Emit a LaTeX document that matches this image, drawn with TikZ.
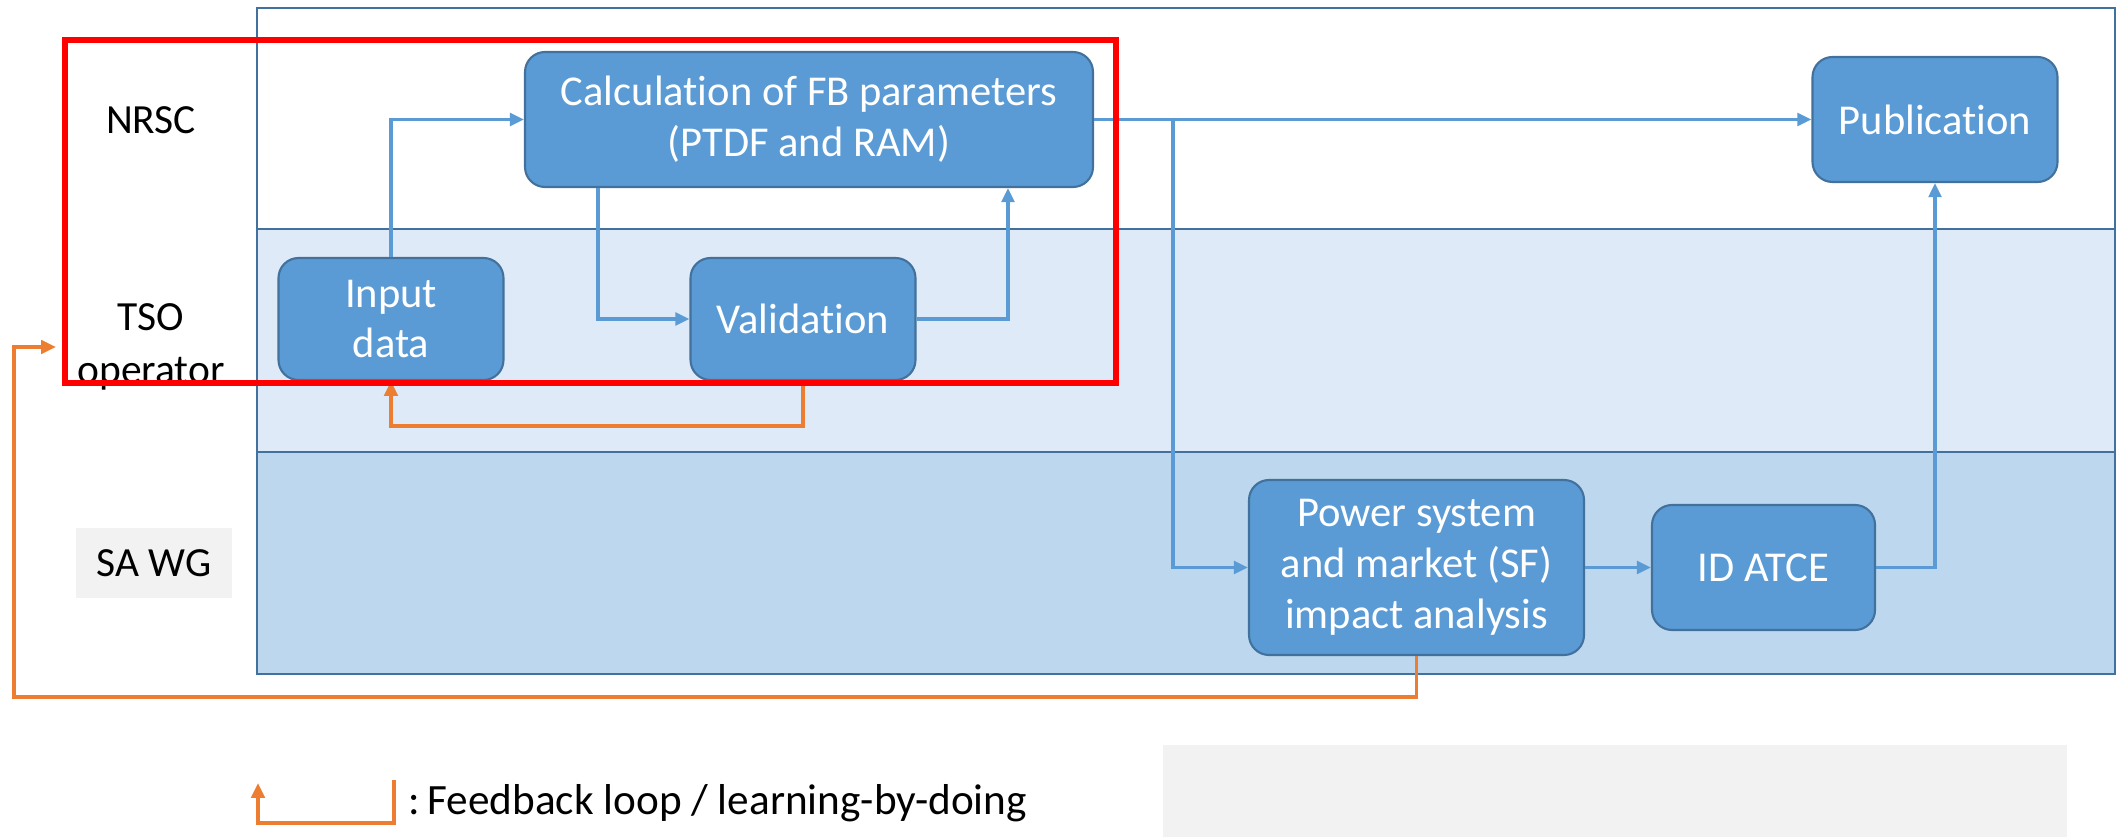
\documentclass[tikz,border=0pt]{standalone}
\usepackage{fontspec}
\setmainfont{Carlito}[Ligatures=NoCommon]
\usetikzlibrary{arrows.meta}
\definecolor{boxblue}{HTML}{5B9BD5}
\definecolor{boxedge}{HTML}{41719C}
\definecolor{lanetso}{HTML}{DEEAF7}
\definecolor{lanesa}{HTML}{BDD7EE}
\definecolor{loopor}{HTML}{ED7D31}
\definecolor{greybg}{HTML}{F2F2F2}
\newcommand{\boxfont}{\fontsize{12.1}{14.5}\selectfont}
\newcommand{\lanefont}{\fontsize{11.8}{15.2}\selectfont}

\begin{document}
\begin{tikzpicture}[x=0.1mm,y=-0.1mm]
                        \tikzstyle{lane}=[draw=boxedge, line width=0.5pt]
                        \tikzstyle{lanelabel}=[align=center, font=\lanefont, inner sep=0pt]
                        \tikzstyle{procbox}=[draw=boxedge, line width=0.6pt, fill=boxblue, rounded corners=2mm, text=white, align=center, font=\boxfont, inner sep=0pt]
                        \tikzstyle{flow}=[boxblue, line width=0.9pt, -{Triangle[length=4pt,width=3.6pt]}]
                        \tikzstyle{feedback}=[loopor, line width=0.9pt, -{Triangle[length=4.2pt,width=3.8pt]}]
                        \useasboundingbox (0,0) rectangle (2123,837);
                        % swim lanes
                        \draw[lane, fill=white] (257,8) rectangle (2115,229);
                        \draw[lane, fill=lanetso] (257,229) rectangle (2115,452);
                        \draw[lane, fill=lanesa] (257,452) rectangle (2115,674);
                        \node[lanelabel] (nrsc) at (151,120) {NRSC};
                        \node[lanelabel] (tso) at (151,347) {TSO\\operator};
                        \node[lanelabel, fill=greybg, minimum width=15.6mm, minimum height=7mm] (sawg) at (154,563) {SA WG};
                        \fill[greybg] (1163,745) rectangle (2067,837);
                        % process boxes
                        \node[procbox, minimum width=56.8mm, minimum height=13.5mm] (calc) at (809,119.5) {Calculation of FB parameters\\(PTDF and RAM)};
                        \node[procbox, minimum width=22.5mm, minimum height=12.2mm] (input) at (391,319) {Input\\data};
                        \node[procbox, minimum width=22.5mm, minimum height=12.2mm] (valid) at (803,319) {Validation};
                        \node[procbox, minimum width=24.5mm, minimum height=12.5mm] (pub) at (1935,119.5) {Publication};
                        \node[procbox, minimum width=33.5mm, minimum height=17.5mm] (power) at (1416.5,567.5) {Power system\\and market (SF)\\impact analysis};
                        \node[procbox, minimum width=22.3mm, minimum height=12.5mm] (idatce) at (1763.5,567.5) {ID ATCE};
                        % flows
                        \draw[flow] (input.north) |- (calc.west);
                        \draw[flow] ([xshift=-21.1mm]calc.south) |- (valid.west);
                        \draw[flow] (valid.east) -| ([xshift=19.9mm]calc.south);
                        \draw[flow] (calc.east) -- (pub.west);
                        \draw[flow] ([xshift=7.9mm]calc.east) |- (power.west);
                        \draw[flow] (power.east) -- (idatce.west);
                        \draw[flow] (idatce.east) -| (pub.south);
                        % feedback loops
                        \coordinate (loopcorner) at (14,697);
                        \coordinate (loopend) at (56,347);
                        \draw[feedback] (valid.south) -- ++(0,45) -| (input.south);
                        \draw[feedback] (power.south) |- (loopcorner) |- (loopend);
                        % legend
                        \coordinate (legtop) at (394,780);
                        \draw[feedback] (legtop) -- ++(0,43) -- ++(-136,0) -- ++(0,-40);
                        \node[anchor=west, font=\fontsize{12.3}{14.5}\selectfont, inner sep=0pt] (legtext) at (408,803) {:\,Feedback loop / learning-by-doing};
                        % highlighted part
                        \draw[red, line width=1.7pt] (65,40) rectangle (1116,383);
\end{tikzpicture}
\end{document}
